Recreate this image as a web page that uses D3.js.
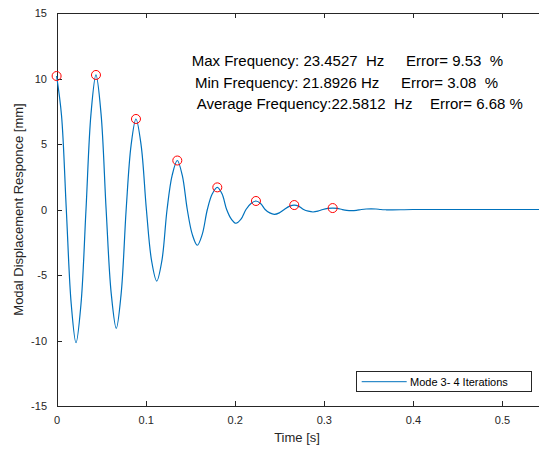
<!DOCTYPE html>
<html>
<head>
<meta charset="utf-8">
<script src="https://cdn.jsdelivr.net/npm/d3@7"></script>
<style>
  html, body { margin: 0; padding: 0; background: #fff; }
  svg { display: block; font-family: "Liberation Sans", Arial, Helvetica, sans-serif; }
  .axis path, .axis line { stroke: #262626; stroke-width: 1; shape-rendering: crispEdges; }
  .axis text { fill: #262626; font-size: 11px; }
</style>
</head>
<body>
<svg id="chart" width="539" height="449"></svg>
<script>
// Modal displacement response (mm) over time (s)
const time = [
  0, 0.0055, 0.0109, 0.0164, 0.0218,
  0.0274, 0.0330, 0.0386, 0.0442,
  0.0499, 0.0556, 0.0613, 0.0670,
  0.0725, 0.0781, 0.0836, 0.0891,
  0.0949, 0.1008, 0.1066, 0.1124,
  0.1182, 0.1240, 0.1297, 0.1355,
  0.1411, 0.1467, 0.1523, 0.1579,
  0.1635, 0.1692, 0.1748, 0.1804,
  0.1857, 0.1909, 0.1962, 0.2014,
  0.2070, 0.2126, 0.2182, 0.2238,
  0.2290, 0.2341, 0.2393, 0.2444,
  0.2500, 0.2556, 0.2612, 0.2668,
  0.2721, 0.2773, 0.2826, 0.2878,
  0.2933, 0.2989, 0.3044, 0.3099,
  0.3152, 0.3205, 0.3257, 0.3310,
  0.3365, 0.3420, 0.3475, 0.3530,
  0.3585, 0.3640, 0.3695, 0.3750,
  0.40, 0.45, 0.50, 0.55
];
const displacement = [
  10.19, 7.2, 0, -7.2, -10.17,
  -7.2, 0, 7.3, 10.27,
  7.3, 0, -6.4, -9.07,
  -6.4, 0, 4.9, 6.91,
  4.9, 0, -3.9, -5.46,
  -3.9, 0, 2.6, 3.74,
  2.6, 0, -1.9, -2.73,
  -1.9, 0, 1.2, 1.69,
  1.2, 0, -0.74, -1.05,
  -0.74, 0, 0.46, 0.65,
  0.46, 0, -0.26, -0.37,
  -0.26, 0, 0.24, 0.34,
  0.24, 0, -0.13, -0.19,
  -0.13, 0, 0.08, 0.11,
  0.08, 0, -0.06, -0.08,
  -0.06, 0, 0.04, 0.05,
  0.04, 0, -0.02, -0.03,
  0, 0, 0, 0
];

// Detected peaks (marked with circles)
const peakTime  = [0, 0.0442, 0.0891, 0.1355, 0.1804, 0.2238, 0.2668, 0.3099];
const peakValue = [10.19, 10.27, 6.91, 3.74, 1.69, 0.65, 0.34, 0.11];

// Axis ticks
const xTicks = [0, 0.1, 0.2, 0.3, 0.4, 0.5];
const yTicks = [-15, -10, -5, 0, 5, 10, 15];

// Frequency summary text: [left part, right part]
const infoLines = [
  ["Max Frequency: 23.4527  Hz", "Error= 9.53  %"],
  ["Min Frequency: 21.8926 Hz", "Error= 3.08  %"],
  ["Average Frequency:22.5812  Hz", "Error= 6.68 %"]
];
const seriesName = "Mode 3- 4 Iterations";

const svg = d3.select("#chart");
const plot = { left: 56.6, top: 13, bottom: 406 };
const xMax = 0.55;

const x = d3.scaleLinear().domain([0, xMax]).range([plot.left, plot.left + xMax * 890.8]);
const y = d3.scaleLinear().domain([-15, 15]).range([plot.bottom, plot.top]);
const fmt = d => String(d);

// Axes with inward ticks (box style)
svg.append("g").attr("class", "axis")
  .attr("transform", `translate(0,${plot.bottom})`)
  .call(d3.axisBottom(x).tickValues(xTicks).tickFormat(fmt).tickSizeInner(-5).tickSizeOuter(0).tickPadding(10));
svg.append("g").attr("class", "axis")
  .attr("transform", `translate(0,${plot.top})`)
  .call(d3.axisTop(x).tickValues(xTicks).tickFormat("").tickSizeInner(-5).tickSizeOuter(0));
svg.append("g").attr("class", "axis")
  .attr("transform", `translate(${plot.left},0)`)
  .call(d3.axisLeft(y).tickValues(yTicks).tickFormat(fmt).tickSizeInner(-5).tickSizeOuter(0).tickPadding(9.6));
svg.append("g").attr("class", "axis")
  .attr("transform", `translate(${x(xMax)},0)`)
  .call(d3.axisRight(y).tickValues(yTicks).tickFormat("").tickSizeInner(-5).tickSizeOuter(0));

// Response curve
const pts = time.map((t, i) => [t, displacement[i]]);
svg.append("path")
  .datum(pts)
  .attr("fill", "none")
  .attr("stroke", "#0072BD")
  .attr("stroke-width", 1.2)
  .attr("d", d3.line().x(d => x(d[0])).y(d => y(d[1])).curve(d3.curveCatmullRom.alpha(0.5)));

// Peak markers
svg.append("g").selectAll("circle")
  .data(peakTime.map((t, i) => [t, peakValue[i]]))
  .join("circle")
  .attr("cx", d => x(d[0]))
  .attr("cy", d => y(d[1]))
  .attr("r", 4.5)
  .attr("fill", "none")
  .attr("stroke", "#FF0000")
  .attr("stroke-width", 1);

// Axis labels
svg.append("text")
  .attr("x", 297).attr("y", 442)
  .attr("text-anchor", "middle")
  .attr("font-size", 13).attr("fill", "#262626")
  .text("Time [s]");
svg.append("text")
  .attr("transform", `translate(23,${y(0)}) rotate(-90)`)
  .attr("text-anchor", "middle")
  .attr("font-size", 13).attr("fill", "#262626")
  .text("Modal Displacement Responce [mm]");

// Frequency summary
const infoX = [[191.7, 406], [195, 401], [196.7, 430]];
const infoY = [66, 87.5, 109];
infoLines.forEach((parts, i) => {
  parts.forEach((s, j) => {
    svg.append("text")
      .attr("x", infoX[i][j]).attr("y", infoY[i])
      .attr("font-size", 15).attr("fill", "#000")
      .style("white-space", "pre")
      .text(s);
  });
});

// Legend
const lg = svg.append("g");
lg.append("rect")
  .attr("x", 356.7).attr("y", 371.7).attr("width", 175).attr("height", 20)
  .attr("fill", "#fff").attr("stroke", "#262626").attr("stroke-width", 1)
  .attr("shape-rendering", "crispEdges");
lg.append("line")
  .attr("x1", 361.7).attr("x2", 406.7).attr("y1", 381.7).attr("y2", 381.7)
  .attr("stroke", "#0072BD").attr("stroke-width", 1);
lg.append("text")
  .attr("x", 410).attr("y", 385.5)
  .attr("font-size", 11).attr("fill", "#000")
  .text(seriesName);
</script>
</body>
</html>
